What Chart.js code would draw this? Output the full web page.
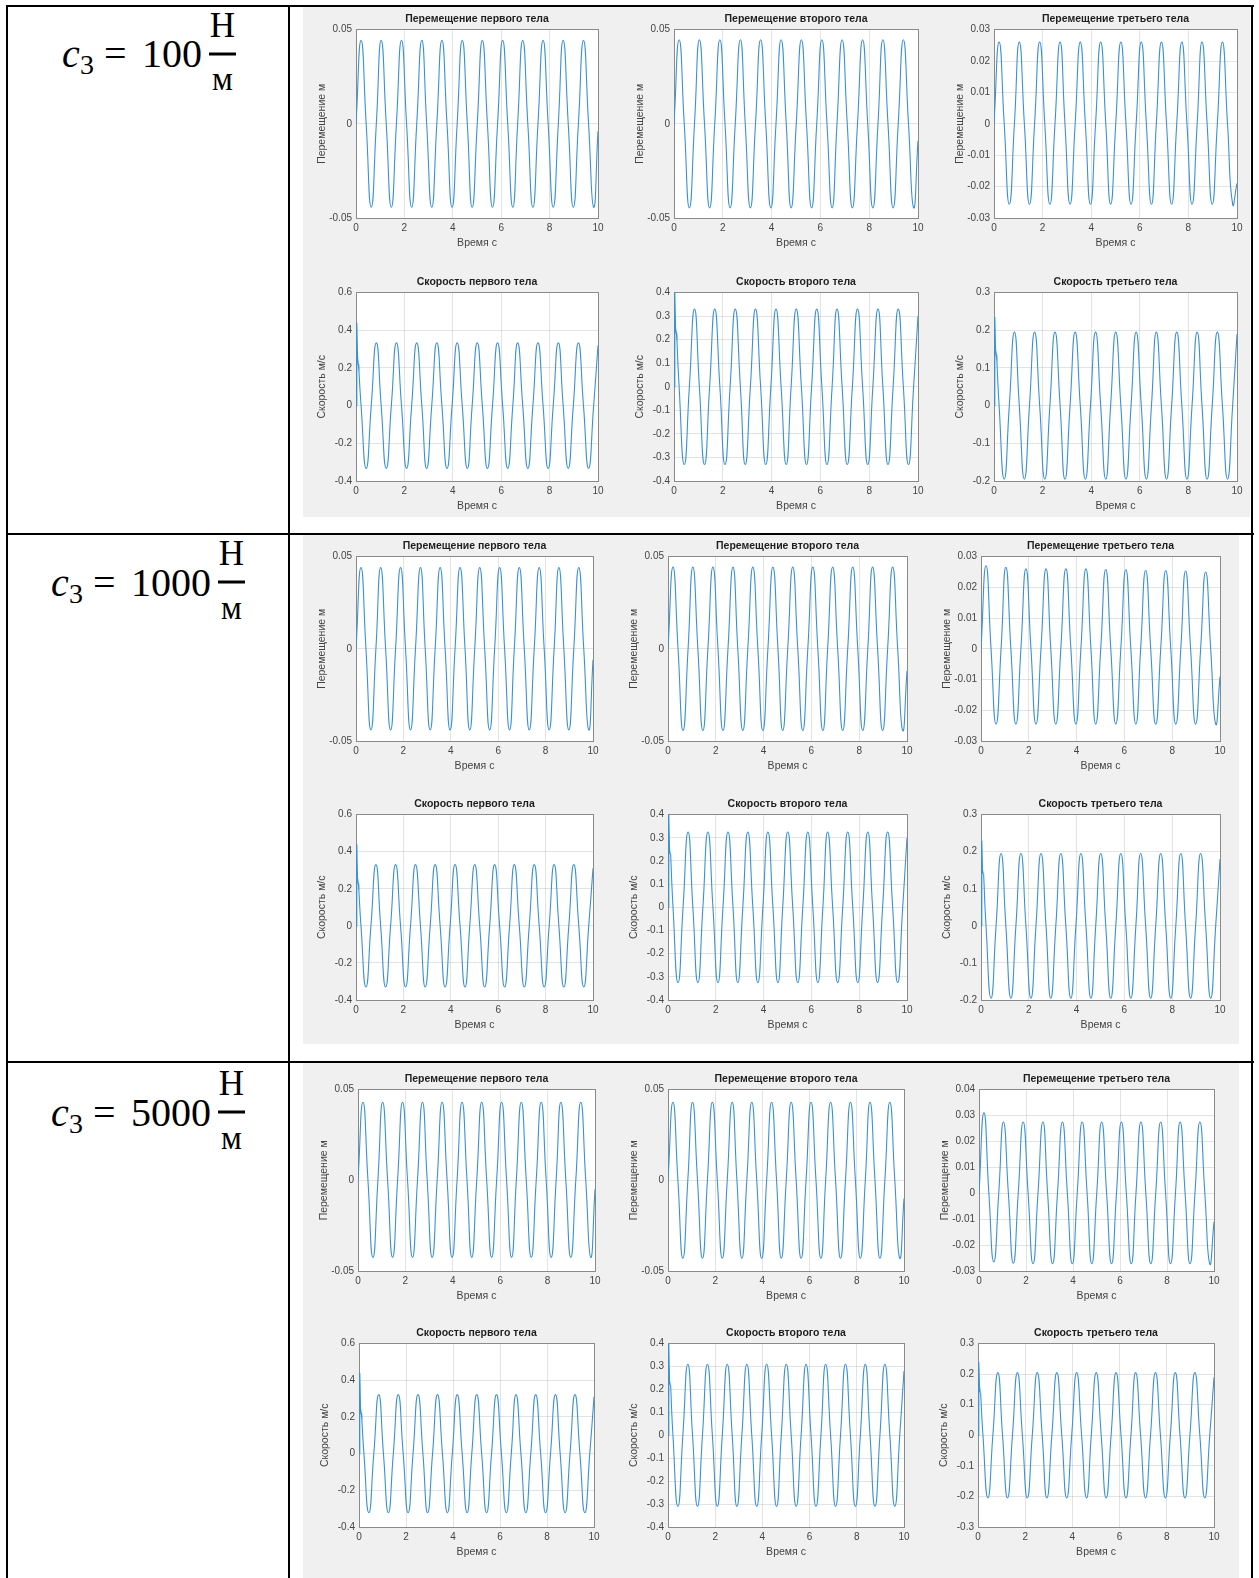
<!DOCTYPE html>
<html><head><meta charset="utf-8">
<script src="https://cdn.jsdelivr.net/npm/chart.js@4/dist/chart.umd.min.js"></script>
<style>
html,body{margin:0;padding:0;background:#fff}
body{width:1259px;height:1578px;position:relative;overflow:hidden;font-family:"Liberation Sans",Arial,sans-serif}
.bl{position:absolute;background:#000}
.panel{position:absolute;background:#f0f0f0}
svg{position:absolute;left:0;top:0}
</style></head><body>
<div class="panel" style="left:303px;top:7px;width:947px;height:510px"></div>
<div class="panel" style="left:303px;top:535px;width:936px;height:509px"></div>
<div class="panel" style="left:303px;top:1063px;width:936px;height:515px"></div>
<div class="bl" style="left:6px;top:5px;width:1248px;height:2px"></div>
<div class="bl" style="left:6px;top:533px;width:1248px;height:2px"></div>
<div class="bl" style="left:6px;top:1061px;width:1248px;height:2px"></div>
<div class="bl" style="left:6px;top:5px;width:2px;height:1573px"></div>
<div class="bl" style="left:288px;top:5px;width:2px;height:1573px"></div>
<div class="bl" style="left:1251px;top:5px;width:2px;height:1573px"></div>
<svg width="300" height="1578" font-family="'Liberation Serif','Times New Roman',serif" fill="#000">
  <text x="62" y="67" font-size="40" font-style="italic">c</text>
  <text x="80" y="74" font-size="28">3</text>
  <text x="104" y="67" font-size="40">=</text>
  <text x="142" y="67" font-size="40">100</text>
  <text x="222.5" y="37" font-size="35" text-anchor="middle">Н</text>
  <rect x="209" y="52.5" width="27" height="3"/>
  <text x="222.5" y="90" font-size="33" text-anchor="middle">м</text>

  <text x="51" y="596" font-size="40" font-style="italic">c</text>
  <text x="69" y="603" font-size="28">3</text>
  <text x="93" y="596" font-size="40">=</text>
  <text x="131" y="596" font-size="40">1000</text>
  <text x="231.5" y="565" font-size="35" text-anchor="middle">Н</text>
  <rect x="218" y="580.5" width="27" height="3"/>
  <text x="231.5" y="619" font-size="33" text-anchor="middle">м</text>

  <text x="51" y="1126" font-size="40" font-style="italic">c</text>
  <text x="69" y="1133" font-size="28">3</text>
  <text x="93" y="1126" font-size="40">=</text>
  <text x="131" y="1126" font-size="40">5000</text>
  <text x="231.5" y="1095" font-size="35" text-anchor="middle">Н</text>
  <rect x="218" y="1110.5" width="27" height="3"/>
  <text x="231.5" y="1149" font-size="33" text-anchor="middle">м</text>
</svg>
<script>
// ---------- data ----------
// times of zero crossings / extremes (s)
const keyTimes = [0,0.21,0.42,0.63,0.84,1.04,1.25,1.46,1.67,1.88,2.09,2.30,2.51,2.72,2.92,3.13,3.34,3.55,3.76,3.97,4.18,4.39,4.60,4.80,5.01,5.22,5.43,5.64,5.85,6.06,6.27,6.48,6.68,6.89,7.10,7.31,7.52,7.73,7.94,8.15,8.36,8.56,8.77,8.98,9.19,9.40,9.61,9.82,10.0];
// start transient of the velocities (s)
const startTimes = [0, 0.03, 0.06, 0.09, 0.11];

const xTicks = [0,2,4,6,8,10];
const dispTicks = [-0.05,0,0.05];
const disp3Ticks = [-0.03,-0.02,-0.01,0,0.01,0.02,0.03];
const disp3TicksC = [-0.03,-0.02,-0.01,0,0.01,0.02,0.03,0.04];
const vel1Ticks = [-0.4,-0.2,0,0.2,0.4,0.6];
const vel2Ticks = [-0.4,-0.3,-0.2,-0.1,0,0.1,0.2,0.3,0.4];
const vel3Ticks = [-0.2,-0.1,0,0.1,0.2,0.3];
const vel3TicksC = [-0.3,-0.2,-0.1,0,0.1,0.2,0.3];

// ---- c3 = 100 ----
const a_x1Peaks = [0.0443,0.0443,0.0443,0.0443,0.0443,0.0443,0.0443,0.0443,0.0443,0.0443,0.0443,0.0443];
const a_x1Troughs = [-0.0443,-0.0443,-0.0443,-0.0443,-0.0443,-0.0443,-0.0443,-0.0443,-0.0443,-0.0443,-0.0443,-0.0443];
const a_x1End = -0.004;
const a_x2Peaks = [0.0446,0.0446,0.0446,0.0446,0.0446,0.0446,0.0446,0.0446,0.0446,0.0446,0.0446,0.0446];
const a_x2Troughs = [-0.0446,-0.0446,-0.0446,-0.0446,-0.0446,-0.0446,-0.0446,-0.0446,-0.0446,-0.0446,-0.0446,-0.0446];
const a_x2End = -0.009;
const a_x3Peaks = [0.026,0.026,0.026,0.026,0.026,0.026,0.026,0.026,0.026,0.026,0.026,0.026];
const a_x3Troughs = [-0.0256,-0.0256,-0.0256,-0.0256,-0.0256,-0.0256,-0.0256,-0.0256,-0.0256,-0.0256,-0.0256,-0.0256];
const a_x3End = -0.019;
const a_v1Start = [0,0.44,0.26,0.22,0.21];
const a_v1Peaks = [0.333,0.333,0.333,0.333,0.333,0.333,0.333,0.333,0.333,0.333,0.333];
const a_v1Troughs = [-0.333,-0.333,-0.333,-0.333,-0.333,-0.333,-0.333,-0.333,-0.333,-0.333,-0.333,-0.333];
const a_v1End = 0.32;
const a_v2Start = [0,0.40,0.25,0.23,0.22];
const a_v2Peaks = [0.33,0.33,0.33,0.33,0.33,0.33,0.33,0.33,0.33,0.33,0.33];
const a_v2Troughs = [-0.33,-0.33,-0.33,-0.33,-0.33,-0.33,-0.33,-0.33,-0.33,-0.33,-0.33,-0.33];
const a_v2End = 0.30;
const a_v3Start = [0,0.235,0.15,0.135,0.13];
const a_v3Peaks = [0.195,0.195,0.195,0.195,0.195,0.195,0.195,0.195,0.195,0.195,0.195];
const a_v3Troughs = [-0.195,-0.195,-0.195,-0.195,-0.195,-0.195,-0.195,-0.195,-0.195,-0.195,-0.195,-0.195];
const a_v3End = 0.19;

// ---- c3 = 1000 ----
const b_x1Peaks = [0.044,0.044,0.044,0.044,0.044,0.044,0.044,0.044,0.044,0.044,0.044,0.044];
const b_x1Troughs = [-0.044,-0.044,-0.044,-0.044,-0.044,-0.044,-0.044,-0.044,-0.044,-0.044,-0.044,-0.044];
const b_x1End = -0.006;
const b_x2Peaks = [0.0443,0.0443,0.0443,0.0443,0.0443,0.0443,0.0443,0.0443,0.0443,0.0443,0.0443,0.0443];
const b_x2Troughs = [-0.0443,-0.0443,-0.0443,-0.0443,-0.0443,-0.0443,-0.0443,-0.0443,-0.0443,-0.0443,-0.0443,-0.0443];
const b_x2End = -0.012;
const b_x3Peaks = [0.027,0.0265,0.026,0.026,0.026,0.026,0.0258,0.0257,0.0255,0.0255,0.0253,0.025];
const b_x3Troughs = [-0.0245,-0.0245,-0.0245,-0.0245,-0.0245,-0.0245,-0.0245,-0.0245,-0.0245,-0.0245,-0.0245,-0.0245];
const b_x3End = -0.009;
const b_v1Start = [0,0.44,0.26,0.23,0.22];
const b_v1Peaks = [0.33,0.33,0.33,0.33,0.33,0.33,0.33,0.33,0.33,0.33,0.33];
const b_v1Troughs = [-0.33,-0.33,-0.33,-0.33,-0.33,-0.33,-0.33,-0.33,-0.33,-0.33,-0.33,-0.33];
const b_v1End = 0.31;
const b_v2Start = [0,0.40,0.25,0.23,0.23];
const b_v2Peaks = [0.325,0.325,0.325,0.325,0.325,0.325,0.325,0.325,0.325,0.325,0.325];
const b_v2Troughs = [-0.325,-0.325,-0.325,-0.325,-0.325,-0.325,-0.325,-0.325,-0.325,-0.325,-0.325,-0.325];
const b_v2End = 0.30;
const b_v3Start = [0,0.23,0.15,0.14,0.14];
const b_v3Peaks = [0.195,0.195,0.195,0.195,0.195,0.195,0.195,0.195,0.195,0.195,0.195];
const b_v3Troughs = [-0.195,-0.195,-0.195,-0.195,-0.195,-0.195,-0.195,-0.195,-0.195,-0.195,-0.195,-0.195];
const b_v3End = 0.18;

// ---- c3 = 5000 ----
const c_x1Peaks = [0.043,0.043,0.043,0.043,0.043,0.043,0.043,0.043,0.043,0.043,0.043,0.043];
const c_x1Troughs = [-0.0425,-0.0425,-0.0425,-0.0425,-0.0425,-0.0425,-0.0425,-0.0425,-0.0425,-0.0425,-0.0425,-0.0425];
const c_x1End = -0.005;
const c_x2Peaks = [0.043,0.043,0.043,0.043,0.043,0.043,0.043,0.043,0.043,0.043,0.043,0.043];
const c_x2Troughs = [-0.043,-0.043,-0.043,-0.043,-0.043,-0.043,-0.043,-0.043,-0.043,-0.043,-0.043,-0.043];
const c_x2End = -0.01;
const c_x3Peaks = [0.031,0.0275,0.0275,0.0275,0.0275,0.0275,0.0275,0.0275,0.0275,0.0275,0.0275,0.0275];
const c_x3Troughs = [-0.0265,-0.027,-0.0272,-0.0272,-0.0272,-0.0272,-0.0272,-0.0272,-0.0272,-0.0272,-0.0272,-0.0272];
const c_x3End = -0.011;
const c_v1Start = [0,0.44,0.25,0.22,0.21];
const c_v1Peaks = [0.322,0.322,0.322,0.322,0.322,0.322,0.322,0.322,0.322,0.322,0.322];
const c_v1Troughs = [-0.322,-0.322,-0.322,-0.322,-0.322,-0.322,-0.322,-0.322,-0.322,-0.322,-0.322,-0.322];
const c_v1End = 0.31;
const c_v2Start = [0,0.40,0.24,0.22,0.22];
const c_v2Peaks = [0.31,0.31,0.31,0.31,0.31,0.31,0.31,0.31,0.31,0.31,0.31];
const c_v2Troughs = [-0.31,-0.31,-0.31,-0.31,-0.31,-0.31,-0.31,-0.31,-0.31,-0.31,-0.31,-0.31];
const c_v2End = 0.28;
const c_v3Start = [0,0.24,0.16,0.14,0.14];
const c_v3Peaks = [0.205,0.205,0.205,0.205,0.205,0.205,0.205,0.205,0.205,0.205,0.205];
const c_v3Troughs = [-0.205,-0.205,-0.205,-0.205,-0.205,-0.205,-0.205,-0.205,-0.205,-0.205,-0.205,-0.205];
const c_v3End = 0.19;

// ---------- building tables for the library ----------
function dispPoints(peaks, troughs, endVal) {
  const pts = [];
  for (let k = 0; k < 48; k++) {
    const c = Math.floor(k / 4);
    const y = k % 4 === 1 ? peaks[c] : (k % 4 === 3 ? troughs[c] : 0);
    pts.push({x: keyTimes[k], y});
  }
  pts.push({x: keyTimes[48], y: endVal});
  return pts;
}
function velStartPoints(startV) {
  return startTimes.map((t, i) => ({x: t, y: startV[i]}));
}
function velMainPoints(startV, peaks, troughs, endVal) {
  const pts = [{x: startTimes[startTimes.length - 1], y: startV[startV.length - 1]}];
  for (let k = 1; k < 48; k++) {
    const c = Math.floor(k / 4);
    let y = 0;
    if (k % 4 === 2) y = troughs[c];
    else if (k % 4 === 0) y = peaks[c - 1];
    pts.push({x: keyTimes[k], y});
  }
  pts.push({x: keyTimes[48], y: endVal});
  return pts;
}

const FONT = '"Liberation Sans", Arial, Helvetica, sans-serif';
const LINE = '#3a92d2';
const GRID = 'rgba(0,0,0,0.11)';
const AXIS = '#8a8a8a';
const TXT = '#444444';

const T_DISP = ['Перемещение первого тела','Перемещение второго тела','Перемещение третьего тела'];
const T_VEL = ['Скорость первого тела','Скорость второго тела','Скорость третьего тела'];

function dispSet(pts) {
  return [{data: pts, borderColor: LINE, borderWidth: 1.1, pointRadius: 0, tension: 0.55, fill: false}];
}
function velSet(startV, peaks, troughs, endVal) {
  return [
    {data: velStartPoints(startV), borderColor: LINE, borderWidth: 1.3, pointRadius: 0, tension: 0, fill: false},
    {data: velMainPoints(startV, peaks, troughs, endVal), borderColor: LINE, borderWidth: 1.1, pointRadius: 0, tension: 0.55, fill: false}
  ];
}

// plot-area rectangles [left, top, right, bottom] (layout)
const specs = [
  {r:[356,29,598,218], t:T_DISP[0], y:'Перемещение м', ticks:dispTicks, ds:dispSet(dispPoints(a_x1Peaks,a_x1Troughs,a_x1End))},
  {r:[674,29,918,218], t:T_DISP[1], y:'Перемещение м', ticks:dispTicks, ds:dispSet(dispPoints(a_x2Peaks,a_x2Troughs,a_x2End))},
  {r:[994,29,1237,218], t:T_DISP[2], y:'Перемещение м', ticks:disp3Ticks, ds:dispSet(dispPoints(a_x3Peaks,a_x3Troughs,a_x3End))},
  {r:[356,292,598,481], t:T_VEL[0], y:'Скорость м/с', ticks:vel1Ticks, ds:velSet(a_v1Start,a_v1Peaks,a_v1Troughs,a_v1End)},
  {r:[674,292,918,481], t:T_VEL[1], y:'Скорость м/с', ticks:vel2Ticks, ds:velSet(a_v2Start,a_v2Peaks,a_v2Troughs,a_v2End)},
  {r:[994,292,1237,481], t:T_VEL[2], y:'Скорость м/с', ticks:vel3Ticks, ds:velSet(a_v3Start,a_v3Peaks,a_v3Troughs,a_v3End)},

  {r:[356,556,593,741], t:T_DISP[0], y:'Перемещение м', ticks:dispTicks, ds:dispSet(dispPoints(b_x1Peaks,b_x1Troughs,b_x1End))},
  {r:[668,556,907,741], t:T_DISP[1], y:'Перемещение м', ticks:dispTicks, ds:dispSet(dispPoints(b_x2Peaks,b_x2Troughs,b_x2End))},
  {r:[981,556,1220,741], t:T_DISP[2], y:'Перемещение м', ticks:disp3Ticks, ds:dispSet(dispPoints(b_x3Peaks,b_x3Troughs,b_x3End))},
  {r:[356,814,593,1000], t:T_VEL[0], y:'Скорость м/с', ticks:vel1Ticks, ds:velSet(b_v1Start,b_v1Peaks,b_v1Troughs,b_v1End)},
  {r:[668,814,907,1000], t:T_VEL[1], y:'Скорость м/с', ticks:vel2Ticks, ds:velSet(b_v2Start,b_v2Peaks,b_v2Troughs,b_v2End)},
  {r:[981,814,1220,1000], t:T_VEL[2], y:'Скорость м/с', ticks:vel3Ticks, ds:velSet(b_v3Start,b_v3Peaks,b_v3Troughs,b_v3End)},

  {r:[358,1089,595,1271], t:T_DISP[0], y:'Перемещение м', ticks:dispTicks, ds:dispSet(dispPoints(c_x1Peaks,c_x1Troughs,c_x1End))},
  {r:[668,1089,904,1271], t:T_DISP[1], y:'Перемещение м', ticks:dispTicks, ds:dispSet(dispPoints(c_x2Peaks,c_x2Troughs,c_x2End))},
  {r:[979,1089,1214,1271], t:T_DISP[2], y:'Перемещение м', ticks:disp3TicksC, ds:dispSet(dispPoints(c_x3Peaks,c_x3Troughs,c_x3End))},
  {r:[359,1343,594,1527], t:T_VEL[0], y:'Скорость м/с', ticks:vel1Ticks, ds:velSet(c_v1Start,c_v1Peaks,c_v1Troughs,c_v1End)},
  {r:[668,1343,904,1527], t:T_VEL[1], y:'Скорость м/с', ticks:vel2Ticks, ds:velSet(c_v2Start,c_v2Peaks,c_v2Troughs,c_v2End)},
  {r:[978,1343,1214,1527], t:T_VEL[2], y:'Скорость м/с', ticks:vel3TicksC, ds:velSet(c_v3Start,c_v3Peaks,c_v3Troughs,c_v3End)}
];

const whiteArea = {
  id: 'whiteArea',
  beforeDraw(c) {
    const a = c.chartArea, ctx = c.ctx;
    ctx.save(); ctx.fillStyle = '#fff'; ctx.fillRect(a.left, a.top, a.right - a.left, a.bottom - a.top); ctx.restore();
  }
};

const AXW = 48, TOPH = 20, BOTH = 34;
specs.forEach(s => {
  const [L, T, R, B] = s.r;
  const w = (R - L) + 2 * AXW, h = (B - T) + TOPH + BOTH;
  const cv = document.createElement('canvas');
  cv.width = w; cv.height = h;
  cv.style.cssText = `position:absolute;left:${L - AXW}px;top:${T - TOPH}px;width:${w}px;height:${h}px`;
  document.body.appendChild(cv);
  const yt = s.ticks;
  new Chart(cv, {
    type: 'line',
    data: {datasets: s.ds},
    plugins: [whiteArea],
    options: {
      responsive: false, animation: false, events: [],
      layout: {padding: 0},
      plugins: {
        legend: {display: false}, tooltip: {enabled: false},
        title: {display: true, text: s.t, color: '#1e1e1e', font: {family: FONT, size: 10.5, weight: 'bold'}, padding: {top: 4, bottom: 4}}
      },
      scales: {
        x: {
          type: 'linear', position: 'bottom', min: 0, max: 10,
          afterBuildTicks: sc => { sc.ticks = xTicks.map(v => ({value: v})); },
          afterFit: sc => { sc.height = BOTH; },
          ticks: {color: TXT, font: {family: FONT, size: 10}, padding: 4, maxRotation: 0, autoSkip: false, callback: v => String(v)},
          grid: {color: GRID, drawTicks: false},
          border: {color: AXIS, width: 1},
          title: {display: true, text: 'Время с', color: TXT, font: {family: FONT, size: 10.5}, padding: {top: 0, bottom: 3}}
        },
        y: {
          type: 'linear', position: 'left', min: yt[0], max: yt[yt.length - 1],
          afterBuildTicks: sc => { sc.ticks = yt.map(v => ({value: v})); },
          afterFit: sc => { sc.width = AXW; },
          ticks: {color: TXT, font: {family: FONT, size: 10}, padding: 4, autoSkip: false, callback: v => String(v)},
          grid: {color: GRID, drawTicks: false},
          border: {color: AXIS, width: 1},
          title: {display: true, text: s.y, color: TXT, font: {family: FONT, size: 10.5}, padding: {top: 8, bottom: 0}}
        },
        xTop: {
          type: 'linear', position: 'top', min: 0, max: 10,
          afterFit: sc => { sc.height = 0; },
          ticks: {display: false},
          grid: {drawOnChartArea: false, drawTicks: false},
          border: {display: true, color: AXIS, width: 1}
        },
        yRight: {
          type: 'linear', position: 'right', min: yt[0], max: yt[yt.length - 1],
          afterFit: sc => { sc.width = AXW; },
          ticks: {display: false},
          grid: {drawOnChartArea: false, drawTicks: false},
          border: {display: true, color: AXIS, width: 1}
        }
      }
    }
  });
});
</script>
</body></html>
